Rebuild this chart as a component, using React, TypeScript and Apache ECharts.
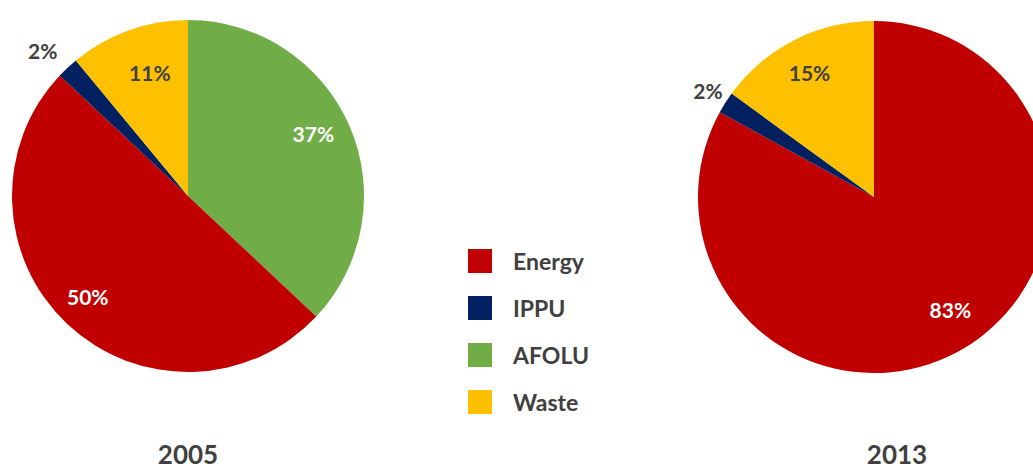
import React, { useEffect, useRef } from "react";
import * as echarts from "echarts";

const categories = ["Energy", "IPPU", "AFOLU", "Waste"];
const colors = ["#C00000", "#002060", "#70AD47", "#FFC000"];
const years = ["2005", "2013"];
// shares in percent, per category, per year
const energy = [50, 83];
const ippu = [2, 2];
const afolu = [37, 0];
const waste = [11, 15];
// clockwise drawing order starting at 12 o'clock, per year
const order2005 = ["AFOLU", "Energy", "IPPU", "Waste"];
const order2013 = ["Energy", "IPPU", "AFOLU", "Waste"];
const outsideLabels = ["IPPU"];

const valuesByName = (i: number): Record<string, number> => ({
  Energy: energy[i],
  IPPU: ippu[i],
  AFOLU: afolu[i],
  Waste: waste[i],
});

const TEXT = "#404040";
const FONT = "Lato, 'Open Sans', sans-serif";
const R = 176;
const centers = [
  [188, 196],
  [874, 197],
];
// small label nudges (style only)
const labelNudge: Record<string, number[]> = {
  "0-AFOLU": [-5, -6],
  "0-Energy": [-3, -3],
  "0-Waste": [10, 10],
  "0-IPPU": [-5, 4],
  "1-Energy": [4, -10],
  "1-Waste": [0, 2],
  "1-IPPU": [7, 3],
};

function buildSeries(yi: number) {
  const vals = valuesByName(yi);
  const order = yi === 0 ? order2005 : order2013;
  const names = order.filter((n) => vals[n] > 0);
  const base = {
    type: "pie",
    center: centers[yi],
    startAngle: 90,
    clockwise: true,
    animation: false,
  };
  const main = {
    ...base,
    name: years[yi],
    radius: [0, R],
    label: { show: false },
    labelLine: { show: false },
    emphasis: { disabled: true },
    data: names.map((n) => ({
      name: n,
      value: vals[n],
      itemStyle: { color: colors[categories.indexOf(n)], borderWidth: 0 },
    })),
  };
  const inner = {
    ...base,
    name: years[yi] + "-in",
    silent: true,
    radius: [R * 0.58, R],
    labelLine: { show: false },
    emphasis: { disabled: true },
    data: names.map((n) => {
      const dark = n === "Waste";
      return {
        name: n,
        value: vals[n],
        itemStyle: { color: "rgba(0,0,0,0)" },
        label: {
          show: !outsideLabels.includes(n),
          position: "inside",
          formatter: "{c}%",
          color: dark ? TEXT : "#ffffff",
          fontFamily: FONT,
          fontWeight: "bold",
          fontSize: 21,
          offset: labelNudge[`${yi}-${n}`] || [0, 0],
        },
      };
    }),
  };
  const outer = {
    ...base,
    name: years[yi] + "-out",
    silent: true,
    radius: [R + 6, R + 46],
    labelLine: { show: false },
    emphasis: { disabled: true },
    data: names.map((n) => ({
      name: n,
      value: vals[n],
      itemStyle: { color: "rgba(0,0,0,0)" },
      label: {
        show: outsideLabels.includes(n),
        position: "inside",
        formatter: "{c}%",
        color: TEXT,
        fontFamily: FONT,
        fontWeight: "bold",
        fontSize: 21,
        offset: labelNudge[`${yi}-${n}`] || [0, 0],
      },
    })),
  };
  return [main, inner, outer];
}

export default function App() {
  const ref = useRef<HTMLDivElement>(null);
  useEffect(() => {
    if (!ref.current) return;
    const chart = echarts.init(ref.current, undefined, { renderer: "svg" });
    const mains = [buildSeries(0), buildSeries(1)];
    chart.setOption({
      animation: false,
      backgroundColor: "#ffffff",
      legend: {
        orient: "vertical",
        left: 463,
        top: 244,
        itemWidth: 24,
        itemHeight: 24,
        itemGap: 23,
        icon: "rect",
        selectedMode: false,
        data: categories,
        textStyle: {
          color: TEXT,
          fontFamily: FONT,
          fontWeight: "bold",
          fontSize: 23,
          padding: [0, 0, 0, 16],
        },
      },
      series: [mains[0][0], mains[1][0], mains[0][1], mains[0][2], mains[1][1], mains[1][2]],
      graphic: years.map((y, i) => ({
        type: "text",
        x: i === 0 ? 188 : 897,
        y: 454,
        style: {
          text: y,
          fill: TEXT,
          font: `bold 26px ${FONT}`,
          align: "center",
          verticalAlign: "middle",
        },
      })),
    });
    return () => chart.dispose();
  }, []);
  return (
    <div
      ref={ref}
      style={{ position: "absolute", left: 0, top: 0, width: 1033, height: 471 }}
    />
  );
}
